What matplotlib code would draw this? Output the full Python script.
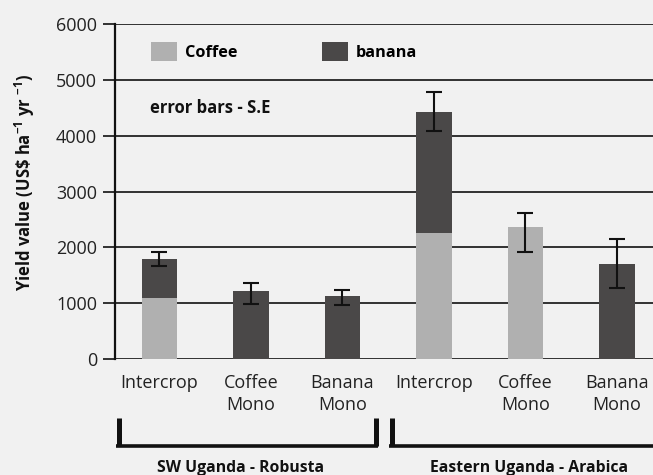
import matplotlib
matplotlib.use('Agg')
import matplotlib.pyplot as plt
from matplotlib.patches import Patch
from matplotlib.lines import Line2D
import numpy as np

# values
categories = ['Intercrop', 'Coffee\nMono', 'Banana\nMono', 'Intercrop', 'Coffee\nMono', 'Banana\nMono']
coffee = [1100, 0, 0, 2250, 2360, 0]
banana = [700, 1220, 1120, 2170, 0, 1710]
err_low = [1670, 990, 975, 4075, 1910, 1265]
err_high = [1920, 1365, 1235, 4775, 2610, 2155]
groups = ['SW Uganda - Robusta', 'Eastern Uganda - Arabica']

bg = '#f1f1f1'
coffee_c = '#b0b0b0'
banana_c = '#4a4848'
ink = '#111111'

plt.rcParams['font.family'] = ['Open Sans', 'DejaVu Sans']
plt.rcParams['mathtext.fontset'] = 'custom'
plt.rcParams['mathtext.rm'] = 'Open Sans'
plt.rcParams['mathtext.bf'] = 'Open Sans:bold'

W, H = 653, 475
fig = plt.figure(figsize=(W / 100, H / 100), dpi=100, facecolor=bg)
ax = fig.add_axes([115 / W, 1 - 359 / H, 1 - 115 / W, (359 - 24) / H])
ax.set_facecolor(bg)

x = np.arange(len(categories))
totals = np.array(coffee) + np.array(banana)
ax.bar(x, coffee, width=0.39, color=coffee_c, zorder=2)
ax.bar(x, banana, width=0.39, bottom=coffee, color=banana_c, zorder=2)
yerr = [totals - np.array(err_low), np.array(err_high) - totals]
ax.errorbar(x, totals, yerr=yerr, fmt='none', ecolor=ink, elinewidth=1.5,
            capsize=6, capthick=1.5, zorder=3)

ax.set_xlim((115 - 159.4) / 91.5, (653 - 159.4) / 91.5)
ax.set_ylim(0, 6000)
ax.set_yticks(range(0, 6001, 1000))
ax.set_xticks(x)
ax.set_xticklabels(categories, fontsize=13, color='#222222', linespacing=1.25)
ax.tick_params(axis='x', length=0, pad=11)
ax.tick_params(axis='y', length=9, width=1.2, color=ink, labelsize=13, labelcolor='#222222', pad=4)
ax.grid(axis='y', color=ink, linewidth=1.2, zorder=0)
ax.set_axisbelow(True)
for s in ['right', 'bottom', 'top']:
    ax.spines[s].set_visible(False)
ax.spines['left'].set_linewidth(1.6)
ax.spines['left'].set_color(ink)

handles = [Patch(facecolor=coffee_c, label='Coffee'), Patch(facecolor=banana_c, label='banana')]
ax.legend(handles=handles, loc='center left', bbox_to_anchor=((150.7 - 115) / 538, 0.918),
          ncol=2, frameon=False, borderpad=0, borderaxespad=0,
          handlelength=1.6, handleheight=1.45, handletextpad=0.5, columnspacing=5.2,
          prop={'weight': 'bold', 'size': 11.7})

ax.text((150 - 115) / 538, (359 - 108) / 335, 'error bars - S.E', transform=ax.transAxes,
        fontsize=12, fontweight='bold', color=ink, va='center', ha='left')

fig.text(24.5 / W, 1 - 182 / H, r'Yield value (US\$ ha$^{\mathbf{-1}}$ yr $^{\mathbf{-1}}$)',
         rotation=90, ha='center', va='center', fontsize=12, fontweight='bold', color=ink)


def px(xp, yp):
    return xp / W, 1 - yp / H


# group brackets
for xs in [(118.5, 376), (391.5, 660)]:
    for xv in xs:
        if xv < W:
            (a, b), (c, d) = px(xv, 418), px(xv, 446)
            fig.add_artist(Line2D([a, c], [b, d], color=ink, lw=3.6, transform=fig.transFigure,
                                  solid_capstyle='butt'))
    (a, b), (c, d) = px(xs[0] - 2.5, 445.5), px(xs[1] + 2.5, 445.5)
    fig.add_artist(Line2D([a, c], [b, d], color=ink, lw=2.6, transform=fig.transFigure,
                          solid_capstyle='butt'))

for label, xc in zip(groups, [241, 529.5]):
    fig.text(xc / W, 1 - 468 / H, label, ha='center', va='center', fontsize=11.3,
             fontweight='bold', color=ink)

fig.savefig('out.png', dpi=100, facecolor=bg)
